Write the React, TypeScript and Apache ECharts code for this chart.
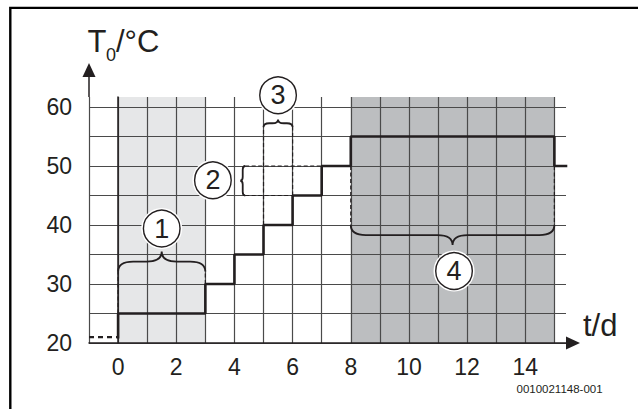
import React, { useEffect, useRef } from "react";
import * as echarts from "echarts";

const FONT = '"Liberation Sans", Arial, Helvetica, sans-serif';
const INK = "#231f20";
const GRIDC = "#4a4a4a";

const xTickLabels = [0, 2, 4, 6, 8, 10, 12, 14];
const yTickLabels = [20, 30, 40, 50, 60];
const xRange = [-1, 15.4];
const yRange = [20, 61.7];

const preheatLine = [[-1, 21], [0, 21]];
const temperatureSteps = [
  [0, 21], [0, 25], [3, 30], [4, 35], [5, 40], [6, 45], [7, 50], [8, 55], [15, 50], [15.4, 50],
];
const shadedPeriods = [[0, 3], [8, 15]];
const shadeColors = ["#e6e7e8", "#bcbec0"];

const guideLines = [
  [0, 25, 0, 32.1], [3, 30, 3, 32.1],
  [4.37, 50, 7, 50], [4.37, 45, 6, 45],
  [5, 40, 5, 56.6], [6, 45, 6, 56.6],
  [8, 50, 8, 40], [15, 50, 15, 40],
];
// x1, y1, x2, y2, tipX, tipY
const braces = [
  [0, 32.1, 3, 32.1, 1.5, 35.5],
  [4.37, 50, 4.37, 45, 4.2, 47.5],
  [5, 56.6, 6, 56.6, 5.5, 57.9],
  [8, 40, 15, 40, 11.5, 36.6],
];
const markerLabels = ["1", "2", "3", "4"];
const markerX = [1.5, 3.26, 5.5, 11.55];
const markerY = [39.4, 47.6, 62.0, 32.2];

const yTitle = "T";
const yTitleSub = "0";
const yTitleUnit = "/°C";
const xTitle = "t/d";
const docCode = "0010021148-001";

function bracePath(p1: number[], p2: number[], pt: number[]) {
  const mx = (p1[0] + p2[0]) / 2, my = (p1[1] + p2[1]) / 2;
  const hx = (pt[0] - mx) / 2, hy = (pt[1] - my) / 2;
  const dx = p2[0] - p1[0], dy = p2[1] - p1[1];
  const len = Math.hypot(dx, dy);
  const ux = dx / len, uy = dy / len;
  const r = Math.min(Math.hypot(hx, hy) * 1.5, len / 4);
  const f = (x: number, y: number) => `${x.toFixed(2)},${y.toFixed(2)}`;
  const B = [p1[0] + hx, p1[1] + hy];
  const C = [B[0] + ux * r, B[1] + uy * r];
  const E = [mx + hx, my + hy];
  const D = [E[0] - ux * r, E[1] - uy * r];
  const F = [E[0] + ux * r, E[1] + uy * r];
  const H = [p2[0] + hx, p2[1] + hy];
  const G = [H[0] - ux * r, H[1] - uy * r];
  return (
    `M${f(p1[0], p1[1])} Q${f(B[0], B[1])} ${f(C[0], C[1])} L${f(D[0], D[1])} ` +
    `Q${f(E[0], E[1])} ${f(pt[0], pt[1])} Q${f(E[0], E[1])} ${f(F[0], F[1])} ` +
    `L${f(G[0], G[1])} Q${f(H[0], H[1])} ${f(p2[0], p2[1])}`
  );
}

export default function App() {
  const ref = useRef<HTMLDivElement>(null);
  useEffect(() => {
    if (!ref.current) return;
    const chart = echarts.init(ref.current, null, { renderer: "svg" });
    chart.setOption({
      animation: false,
      backgroundColor: "#ffffff",
      grid: { left: 89, top: 97, right: 72, bottom: 66, containLabel: false },
      xAxis: {
        type: "value",
        min: xRange[0],
        max: xRange[1],
        interval: 1,
        z: 1,
        axisLine: {
          show: true,
          lineStyle: { color: INK, width: 1.5 },
          symbol: ["none", "triangle"],
          symbolSize: [13, 14],
          symbolOffset: [0, 7],
        },
        axisTick: { show: false },
        axisLabel: {
          showMaxLabel: false,
          margin: 12,
          fontFamily: FONT,
          fontSize: 23,
          color: INK,
          formatter: (v: number) => (xTickLabels.includes(v) ? String(v) : ""),
        },
        splitLine: {
          show: true,
          showMaxLine: false,
          lineStyle: { color: GRIDC, width: 1.2 },
        },
      },
      yAxis: {
        type: "value",
        min: yRange[0],
        max: yRange[1],
        interval: 5,
        z: 1,
        axisLine: { show: true, lineStyle: { color: INK, width: 1.5 } },
        axisTick: { show: false },
        axisLabel: {
          showMaxLabel: false,
          margin: 17,
          fontFamily: FONT,
          fontSize: 23,
          color: INK,
          formatter: (v: number) => (yTickLabels.includes(v) ? String(v) : ""),
        },
        splitLine: {
          show: true,
          showMaxLine: false,
          lineStyle: { color: GRIDC, width: 1.2 },
        },
      },
      series: [
        {
          type: "custom",
          z: 0,
          silent: true,
          data: shadedPeriods.map((p, i) => [p[0], p[1], i]),
          renderItem: (params: any, api: any) => {
            const a = api.coord([api.value(0), yRange[1]]);
            const b = api.coord([api.value(1), yRange[0]]);
            return {
              type: "rect",
              shape: { x: a[0], y: a[1], width: b[0] - a[0], height: b[1] - a[1] },
              style: { fill: shadeColors[api.value(2)] },
            };
          },
        },
        {
          type: "custom",
          z: 3,
          silent: true,
          data: guideLines,
          renderItem: (params: any, api: any) => {
            const a = api.coord([api.value(0), api.value(1)]);
            const b = api.coord([api.value(2), api.value(3)]);
            return {
              type: "line",
              shape: { x1: a[0], y1: a[1], x2: b[0], y2: b[1] },
              style: { stroke: INK, lineWidth: 1.2, lineDash: [4, 2.5], fill: "none" },
            };
          },
        },
        {
          type: "line",
          z: 4,
          data: preheatLine,
          symbol: "none",
          silent: true,
          lineStyle: { color: INK, width: 2.2, type: [5, 4] },
        },
        {
          type: "line",
          z: 4,
          step: "end",
          data: temperatureSteps,
          symbol: "none",
          silent: true,
          lineStyle: { color: INK, width: 2.6, cap: "square" },
        },
        {
          type: "custom",
          z: 5,
          silent: true,
          data: braces,
          renderItem: (params: any, api: any) => {
            const p1 = api.coord([api.value(0), api.value(1)]);
            const p2 = api.coord([api.value(2), api.value(3)]);
            const pt = api.coord([api.value(4), api.value(5)]);
            return {
              type: "path",
              shape: { pathData: bracePath(p1, p2, pt) },
              style: { stroke: INK, lineWidth: 1.8, fill: "none" },
            };
          },
        },
        {
          type: "custom",
          z: 6,
          silent: true,
          data: markerX.map((x, i) => [x, markerY[i]]),
          renderItem: (params: any, api: any) => {
            const p = api.coord([api.value(0), api.value(1)]);
            return {
              type: "group",
              children: [
                { type: "circle", shape: { cx: p[0], cy: p[1], r: 20.5 }, style: { fill: "#fff" } },
                {
                  type: "circle",
                  shape: { cx: p[0], cy: p[1], r: 18.3 },
                  style: { fill: "#fff", stroke: INK, lineWidth: 1.4 },
                },
                {
                  type: "text",
                  style: {
                    text: markerLabels[params.dataIndex],
                    x: p[0],
                    y: p[1],
                    align: "center",
                    verticalAlign: "middle",
                    fontSize: 27,
                    fontFamily: FONT,
                    fill: INK,
                  },
                },
              ],
            };
          },
        },
      ],
    });

    const top = chart.convertToPixel({ gridIndex: 0 }, [xRange[0], yRange[1]]) as number[];
    const ax = top[0];
    const ay = top[1];
    chart.setOption({
      graphic: [
        {
          type: "polyline",
          shape: { points: [[10.3, 430], [10.3, 7.9], [660, 7.9]] },
          style: { stroke: "#000", lineWidth: 2.4, fill: "none" },
          silent: true,
        },
        {
          type: "line",
          shape: { x1: ax, y1: ay, x2: ax, y2: ay - 21 },
          style: { stroke: INK, lineWidth: 1.5 },
          silent: true,
        },
        {
          type: "polygon",
          shape: { points: [[ax, ay - 34], [ax - 6.5, ay - 20], [ax + 6.5, ay - 20]] },
          style: { fill: INK },
          silent: true,
        },
        {
          type: "text",
          left: 87.5,
          top: 26,
          style: { text: yTitle, fontSize: 31, fontFamily: FONT, fill: INK },
        },
        {
          type: "text",
          left: 106,
          top: 46,
          style: { text: yTitleSub, fontSize: 18, fontFamily: FONT, fill: INK },
        },
        {
          type: "text",
          left: 116,
          top: 26,
          style: { text: yTitleUnit, fontSize: 31, fontFamily: FONT, fill: INK },
        },
        {
          type: "text",
          left: 583,
          top: 310,
          style: { text: xTitle, fontSize: 31, fontFamily: FONT, fill: INK },
        },
        {
          type: "text",
          left: 516.5,
          top: 383,
          style: { text: docCode, fontSize: 11.5, fontFamily: FONT, fill: INK },
        },
      ],
    });

    return () => chart.dispose();
  }, []);

  return (
    <div
      ref={ref}
      style={{ position: "fixed", left: 0, top: 0, width: 638, height: 409, background: "#fff" }}
    />
  );
}
